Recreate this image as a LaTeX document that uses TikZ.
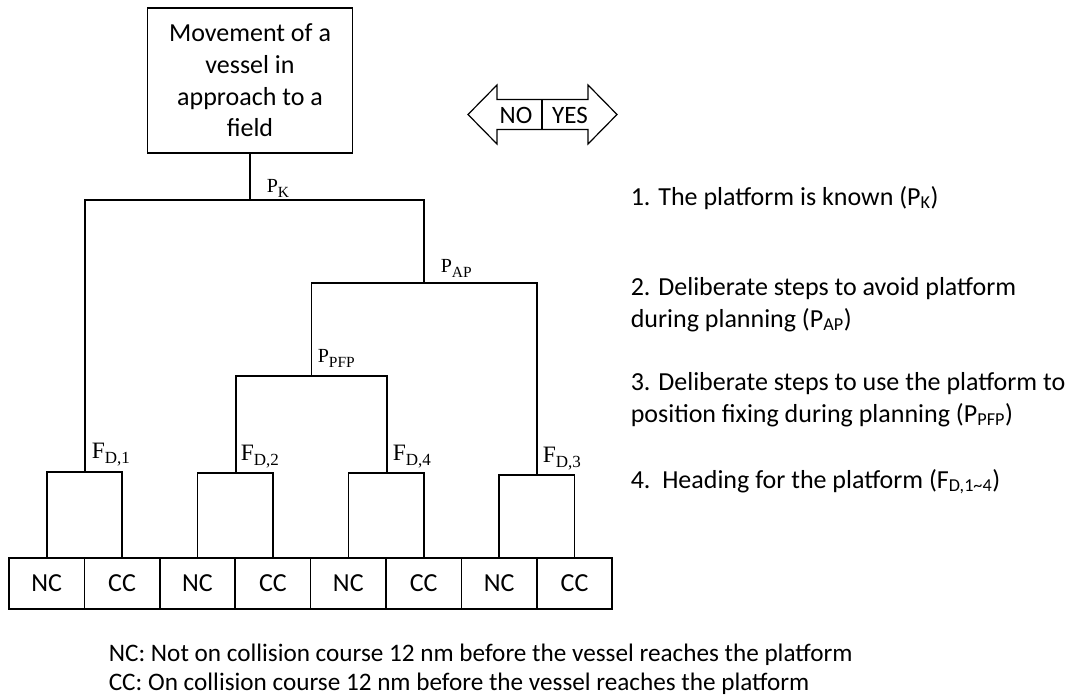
\documentclass[tikz,border=0pt]{standalone}
\usepackage{fontspec}
\setmainfont{Carlito}
\newfontfamily\labelfont{Liberation Serif}
% branch labels with a lowered subscript
\newcommand\plabel[1]{P\raisebox{-5pt}{\fontsize{15.5}{16}\selectfont #1}}
\newcommand\flabel[1]{F\raisebox{-5pt}{\fontsize{17}{18}\selectfont #1}}
\begin{document}
\begin{tikzpicture}[x=1pt,y=-1pt,line width=1.6pt,
  every node/.style={inner sep=0pt},
  body/.style={font=\fontsize{26}{31.7}\selectfont},
  cell/.style={draw,minimum width=75.4pt,minimum height=51pt,body},
  plbl/.style={anchor=base west,font=\labelfont\fontsize{20}{22}\selectfont},
  flbl/.style={anchor=base west,font=\labelfont\fontsize{23.5}{26}\selectfont},
  item/.style={anchor=base west,align=left,body},
  note/.style={anchor=base west,font=\fontsize{25.2}{30}\selectfont}]
\useasboundingbox (0,0) rectangle (1076,698);

% root
\node[draw,minimum width=205pt,minimum height=145pt,align=center,body]
  (top) at (250,80.5) {Movement of a\\vessel in\\approach to a\\field};

% outcome cells
\foreach \i/\t in {1/NC,2/CC,3/NC,4/CC,5/NC,6/CC,7/NC,8/CC}
  \node[cell] (c\i) at ({9+75.4*(\i-0.5)},583.5) {\t};

% branch points
\coordinate (pk)  at (250,200);
\coordinate (ap)  at (424,283);
\coordinate (pfp) at (311.5,376);
\coordinate (f1)  at (85,472);
\coordinate (f2)  at (236,473);
\coordinate (f4)  at (387,473);
\coordinate (f3)  at (537,475);

% tree
\draw (top.south) -- (pk);
\draw (f1) |- (pk) -| (ap);
\draw (pfp) |- (ap) -| (f3);
\draw (f2) |- (pfp) -| (f4);
\draw (c1.north) |- (f1) -| (c2.north);
\draw (c3.north) |- (f2) -| (c4.north);
\draw (c5.north) |- (f4) -| (c6.north);
\draw (c7.north) |- (f3) -| (c8.north);

% branch labels
\node[plbl] (lpk)  at (266,192) {\plabel{K}};
\node[plbl] (lap)  at (440,272) {\plabel{AP}};
\node[plbl] (lpfp) at (317,362) {\plabel{PFP}};
\node[flbl] (lf1)  at (91,458)  {\flabel{D,1}};
\node[flbl] (lf2)  at (240,460) {\flabel{D,2}};
\node[flbl] (lf4)  at (392,460) {\flabel{D,4}};
\node[flbl] (lf3)  at (542,462) {\flabel{D,3}};

% NO / YES double arrow
\draw[line width=1.2pt,line join=miter]
  (468,114.5) -- (497,85) -- (497,99.5) -- (588,99.5) -- (588,85) -- (617,114.5)
  -- (588,144) -- (588,129.5) -- (497,129.5) -- (497,144) -- cycle;
\draw[line width=1.2pt] (542,99.5) -- (542,129.5);
\node[font=\fontsize{25}{28}\selectfont] (no)  at (516,115) {NO};
\node[font=\fontsize{25}{28}\selectfont] (yes) at (570,115) {YES};

% legend of the questions
\node[item] (q1) at (630,205) {1. The platform is known (P\textsubscript{K})};
\node[item] (q2) at (630,327) {2. Deliberate steps to avoid platform\\during planning (P\textsubscript{AP})};
\node[item] (q3) at (630,422) {3. Deliberate steps to use the platform to\\position fixing during planning (P\textsubscript{PFP})};
\node[item] (q4) at (630,488) {4.\ \ Heading for the platform (F\textsubscript{D,1\textasciitilde4})};

% outcome notes
\node[note] (n1) at (108,661) {NC: Not on collision course 12 nm before the vessel reaches the platform};
\node[note] (n2) at (108,690) {CC: On collision course 12 nm before the vessel reaches the platform};
\end{tikzpicture}
\end{document}
